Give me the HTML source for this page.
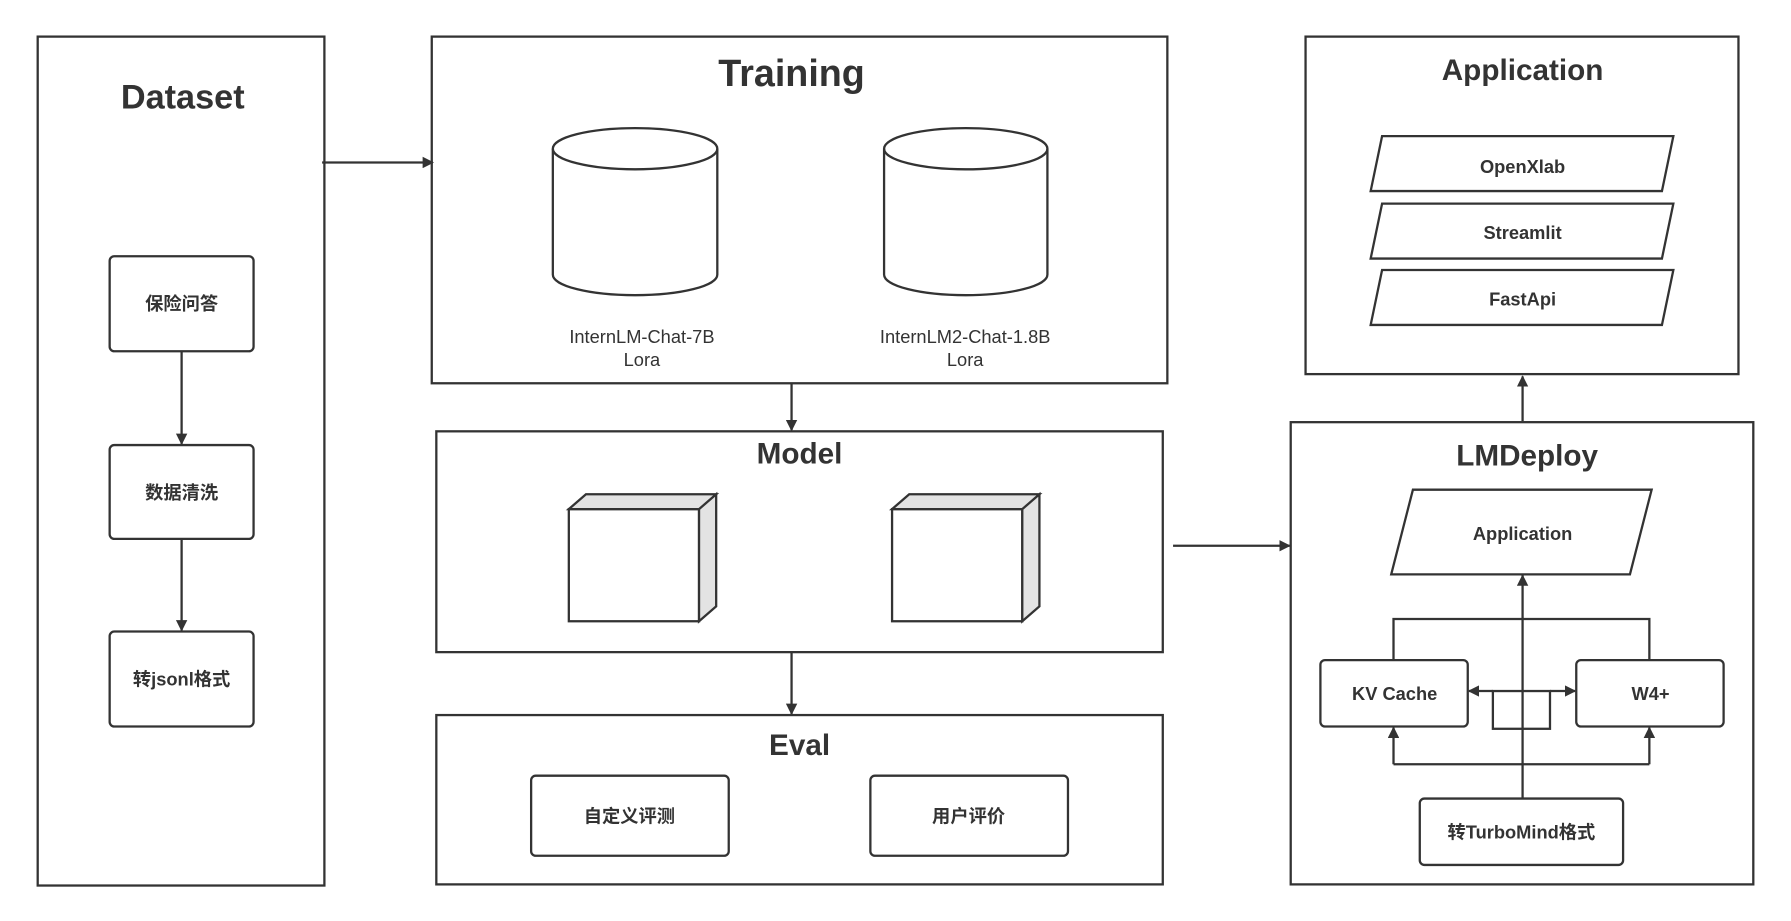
<!DOCTYPE html>
<html><head><meta charset="utf-8"><style>body{margin:0;background:#fff}svg{display:block}</style></head><body>
<svg width="1791" height="921" viewBox="0 0 1568 805" preserveAspectRatio="none" xmlns="http://www.w3.org/2000/svg" font-family="'Liberation Sans','Noto Sans CJK SC',sans-serif">
<defs><marker id="a" markerWidth="10" markerHeight="10" refX="9" refY="5" orient="auto" markerUnits="userSpaceOnUse"><path d="M0,0 L10,5 L0,10 z" fill="#333"/></marker></defs>
<g fill="none" stroke="#333" stroke-width="2">
<rect x="33" y="32" width="251" height="742"/>
<rect x="96" y="224" width="126" height="83" rx="4"/>
<rect x="96" y="389" width="126" height="82" rx="4"/>
<rect x="96" y="552" width="126" height="83" rx="4"/>
<line x1="159" y1="307" x2="159" y2="388" marker-end="url(#a)"/>
<line x1="159" y1="471" x2="159" y2="551" marker-end="url(#a)"/>
<line x1="282" y1="142" x2="379" y2="142" marker-end="url(#a)"/>
<rect x="378" y="32" width="644" height="303"/>
<path d="M484,130 v110 a72,18 0 0 0 144,0 v-110"/><ellipse cx="556" cy="130" rx="72" ry="18"/>
<path d="M774,130 v110 a71.5,18 0 0 0 143,0 v-110"/><ellipse cx="845.5" cy="130" rx="71.5" ry="18"/>
<line x1="693" y1="335" x2="693" y2="376" marker-end="url(#a)"/>
<rect x="382" y="377" width="636" height="193"/>
<rect x="498" y="445" width="114" height="98"/>
<path d="M498,445 l15,-13 h114 l-15,13 z M612,445 l15,-13 v98 l-15,13 z" fill="#e3e3e3"/>
<rect x="781" y="445" width="114" height="98"/>
<path d="M781,445 l15,-13 h114 l-15,13 z M895,445 l15,-13 v98 l-15,13 z" fill="#e3e3e3"/>
<line x1="693" y1="570" x2="693" y2="624" marker-end="url(#a)"/>
<rect x="382" y="625" width="636" height="148"/>
<rect x="465" y="678" width="173" height="70" rx="4"/>
<rect x="762" y="678" width="173" height="70" rx="4"/>
<line x1="1027" y1="477" x2="1129" y2="477" marker-end="url(#a)"/>
<rect x="1143" y="32" width="379" height="295"/>
<path d="M1210,119 h255 l-10,48 h-255 z"/>
<path d="M1210,178 h255 l-10,48 h-255 z"/>
<path d="M1210,236 h255 l-10,48 h-255 z"/>
<line x1="1333" y1="368" x2="1333" y2="329" marker-end="url(#a)"/>
<rect x="1130" y="369" width="405" height="404"/>
<path d="M1237,428 h209 l-19,74 h-209 z"/>
<rect x="1156" y="577" width="129" height="58" rx="4"/>
<rect x="1380" y="577" width="129" height="58" rx="4"/>
<path d="M1220,577 V541 H1444 V577"/>
<path d="M1220,668 H1444"/>
<line x1="1220" y1="668" x2="1220" y2="636" marker-end="url(#a)"/>
<line x1="1444" y1="668" x2="1444" y2="636" marker-end="url(#a)"/>
<rect x="1307" y="604" width="50" height="33"/>
<line x1="1307" y1="604" x2="1286" y2="604" marker-end="url(#a)"/>
<line x1="1357" y1="604" x2="1379" y2="604" marker-end="url(#a)"/>
<rect x="1243" y="698" width="178" height="58" rx="4"/>
<line x1="1333" y1="698" x2="1333" y2="503" marker-end="url(#a)"/>
</g>
<g fill="#333" text-anchor="middle" font-weight="bold">
<text x="160" y="95" font-size="30">Dataset</text>
<text x="693" y="75" font-size="33">Training</text>
<text x="700" y="405" font-size="26">Model</text>
<text x="700" y="660" font-size="26">Eval</text>
<text x="1333" y="70" font-size="26">Application</text>
<text x="1337" y="407" font-size="26">LMDeploy</text>
<g font-size="16">
<text x="159" y="271">保险问答</text>
<text x="159" y="436">数据清洗</text>
<text x="159" y="599">转jsonl格式</text>
<text x="551" y="719">自定义评测</text>
<text x="848" y="719">用户评价</text>
<text x="1333" y="151">OpenXlab</text>
<text x="1333" y="209">Streamlit</text>
<text x="1333" y="267">FastApi</text>
<text x="1333" y="472">Application</text>
<text x="1221" y="612">KV Cache</text>
<text x="1445" y="612">W4+</text>
<text x="1332" y="733">转TurboMind格式</text>
</g></g>
<g fill="#333" text-anchor="middle" font-size="16">
<text x="562" y="300">InternLM-Chat-7B</text><text x="562" y="320">Lora</text>
<text x="845" y="300">InternLM2-Chat-1.8B</text><text x="845" y="320">Lora</text>
</g>
</svg>
</body></html>
